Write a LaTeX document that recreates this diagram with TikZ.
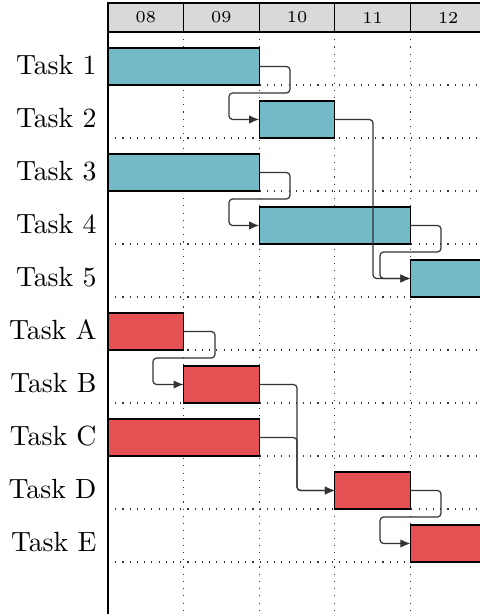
\documentclass[tikz,border=0pt]{standalone}
\usetikzlibrary{arrows.meta}
\definecolor{barteal}{RGB}{114,186,200}
\definecolor{barred}{RGB}{229,80,82}
\definecolor{hdrgray}{RGB}{217,217,217}
\newcommand{\gbar}[5]{\node[gbarstyle, fill=#5, minimum width={(#3-#2)*0.36pt}, anchor=south west] (#1) at (#2,#4) {};}
\begin{document}
\begin{tikzpicture}[x=0.36pt,y=-0.36pt,
  gridline/.style={line width=0.4pt, dash pattern=on 0.4pt off 2.2pt, black!80},
  gbarstyle/.style={draw=black, line width=0.4pt, inner sep=0pt, outer sep=0pt, minimum height=37*0.36pt},
  hdr/.style={draw=black, fill=hdrgray, line width=0.45pt, inner sep=0pt, outer sep=0pt, minimum width=75.6*0.36pt, minimum height=29*0.36pt, anchor=north west, font=\fontsize{6}{7}\selectfont},
  lbl/.style={anchor=east, inner sep=0pt, font=\fontsize{10}{12}\selectfont},
  link/.style={draw=black!80, line width=0.45pt, rounded corners=1.3pt, -{Latex[length=3.6pt,width=3pt]}}]
\useasboundingbox (0,0) rectangle (480,614);
\clip (0,0) rectangle (480,614);
% grid
\foreach \xx in {183.6,259.2,334.8,410.4} \draw[gridline] (\xx,32) -- (\xx,614);
\foreach \yy in {85,138,191,244,297,350,403,456,509,562} \draw[gridline] (108,\yy) -- (480,\yy);
% header
\node[hdr] (h08) at (108,3) {08};
\node[hdr] (h09) at (183.6,3) {09};
\node[hdr] (h10) at (259.2,3) {10};
\node[hdr] (h11) at (334.8,3) {11};
\node[hdr] (h12) at (410.4,3) {12};
\coordinate (axisend) at (108,614);
\draw[line width=0.5pt] (h08.south west) -- (axisend);
% labels
\node[lbl] (l1) at (97,65) {Task 1};
\node[lbl] (l2) at (97,118) {Task 2};
\node[lbl] (l3) at (97,171) {Task 3};
\node[lbl] (l4) at (97,224) {Task 4};
\node[lbl] (l5) at (97,277) {Task 5};
\node[lbl] (lA) at (97,330) {Task A};
\node[lbl] (lB) at (97,383) {Task B};
\node[lbl] (lC) at (97,436) {Task C};
\node[lbl] (lD) at (97,489) {Task D};
\node[lbl] (lE) at (97,542) {Task E};
% bars
\gbar{t1}{108}{259.2}{85}{barteal}
\gbar{t2}{259.2}{334.8}{138}{barteal}
\gbar{t3}{108}{259.2}{191}{barteal}
\gbar{t4}{259.2}{410.4}{244}{barteal}
\gbar{t5}{410.4}{486}{297}{barteal}
\gbar{tA}{108}{183.6}{350}{barred}
\gbar{tB}{183.6}{259.2}{403}{barred}
\gbar{tC}{108}{259.2}{456}{barred}
\gbar{tD}{334.8}{410.4}{509}{barred}
\gbar{tE}{410.4}{486}{562}{barred}
% links
\draw[link] (t1.east) -- (290,66.5) -- (290,93) -- (229,93) |- (t2.west);
\draw[link] (t3.east) -- (290,172.5) -- (290,199) -- (229,199) |- (t4.west);
\draw[link] (t2.east) -- (373,119.5) |- (t5.west);
\draw[link] (t4.east) -- (441,225.5) -- (441,252) -- (380,252) |- (t5.west);
\draw[link] (tA.east) -- (215,331.5) -- (215,358) -- (153,358) |- (tB.west);
\draw[link] (tB.east) -- (297,384.5) |- (tD.west);
\draw[link] (tC.east) -- (297,437.5) |- (tD.west);
\draw[link] (tD.east) -- (441,490.5) -- (441,517) -- (380,517) |- (tE.west);
\end{tikzpicture}
\end{document}
